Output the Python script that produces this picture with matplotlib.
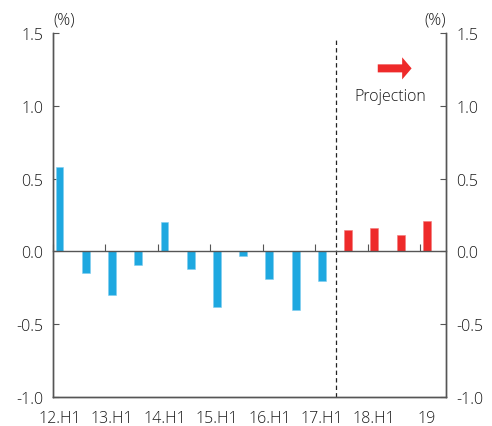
import matplotlib
matplotlib.use("Agg")
import matplotlib.pyplot as plt
from matplotlib.ticker import NullFormatter
import numpy as np

plt.rcParams['font.family'] = ['Open Sans', 'DejaVu Sans']
plt.rcParams['font.weight'] = 'light'

periods = ["12.H1", "12.H2", "13.H1", "13.H2", "14.H1", "14.H2", "15.H1", "15.H2",
           "16.H1", "16.H2", "17.H1", "17.H2", "18.H1", "18.H2", "19.H1"]
actual = [0.58, -0.15, -0.30, -0.09, 0.20, -0.12, -0.38, -0.03, -0.19, -0.40, -0.20]
projection = [0.15, 0.16, 0.11, 0.21]
tick_labels = ["12.H1", "13.H1", "14.H1", "15.H1", "16.H1", "17.H1", "18.H1", "19"]
yticks = [-1.0, -0.5, 0.0, 0.5, 1.0, 1.5]

BLUE = "#1ea8e0"
RED = "#ee2a2a"
TXT = "#1a1a1a"
SPN = "#555555"

fig = plt.figure(figsize=(4.92, 4.27), dpi=100)
ax = fig.add_axes([0.1077, 0.0679, 0.7998, 0.8525])

n = len(periods)
x = np.arange(n)
off = -0.25
xa = x[:len(actual)] + off
xp = x[len(actual):] + off
ax.bar(xa, actual, width=0.30, color=BLUE, edgecolor="#7fcdef", linewidth=0.4, zorder=3)
ax.bar(xp, projection, width=0.30, color=RED, edgecolor="#f47a7a", linewidth=0.4, zorder=3)

ax.set_xlim(-0.5, n - 0.5)
ax.set_ylim(-1.0, 1.5)

# x labels under every other bar
lab_pos = list(x[::2] + off)
ax.set_xticks(lab_pos)
ax.set_xticklabels(tick_labels, fontsize=11.5, color=TXT)
ax.tick_params(axis='x', length=0, pad=9)

# y axes
ax.set_yticks(yticks)
ax.set_yticklabels([f"{v:.1f}" for v in yticks], fontsize=11.5, color=TXT)
ax.tick_params(axis='y', direction='in', length=4, width=0.8, color=SPN, pad=7)
ax.yaxis.set_ticks_position('left')

ax2 = ax.twinx()
ax2.set_ylim(ax.get_ylim())
ax2.set_yticks(yticks)
ax2.set_yticklabels([f"{v:.1f}" for v in yticks], fontsize=11.5, color=TXT)
ax2.tick_params(axis='y', direction='in', length=4, width=0.8, color=SPN, pad=7)

for a in (ax, ax2):
    a.spines['top'].set_visible(False)
    for s in ('left', 'right', 'bottom'):
        a.spines[s].set_color(SPN)
        a.spines[s].set_linewidth(1.0)

# zero line with upward ticks at half-year boundaries
zero_frac = (0 - (-1.0)) / (1.5 - (-1.0))
sec = ax.secondary_xaxis(zero_frac)
sec.set_xticks(list(x[::2] - 0.5))
sec.xaxis.set_major_formatter(NullFormatter())
sec.tick_params(axis='x', direction='in', length=5, width=0.8, color=SPN)
sec.spines['bottom'].set_color(SPN)
sec.spines['bottom'].set_linewidth(1.0)
sec.set_zorder(4)

# projection divider
ax.plot([10.3, 10.3], [-1.0, 1.47], linestyle=(0, (3.5, 2.5)), color="#222222",
        linewidth=0.9, zorder=2)

# arrow and label
ax.arrow(11.88, 1.257, 1.29, 0.0, width=0.055, head_width=0.152, head_length=0.36,
         length_includes_head=True, color=RED, linewidth=0, zorder=3)
ax.text(12.36, 1.07, "Projection", ha='center', va='center', fontsize=11.5, color=TXT)

fig.text(0.131, 0.953, "(%)", ha='center', va='center', fontsize=11.5, color=TXT)
fig.text(0.884, 0.953, "(%)", ha='center', va='center', fontsize=11.5, color=TXT)

fig.savefig("out.png", dpi=100)
